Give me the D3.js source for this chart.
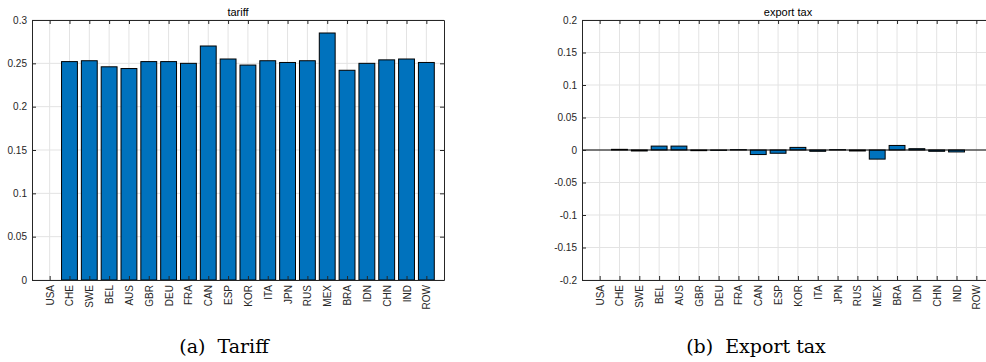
<!DOCTYPE html>
<html>
<head>
<meta charset="utf-8">
<script src="https://cdn.jsdelivr.net/npm/d3@7"></script>
<style>
  html, body { margin: 0; padding: 0; background: #fff; }
  svg { display: block; }
</style>
</head>
<body>
<div id="chart"></div>
<script>
const countries = ["USA", "CHE", "SWE", "BEL", "AUS", "GBR", "DEU", "FRA", "CAN", "ESP",
  "KOR", "ITA", "JPN", "RUS", "MEX", "BRA", "IDN", "CHN", "IND", "ROW"];
const tariff = [0, 0.252, 0.253, 0.246, 0.244, 0.252, 0.252, 0.250, 0.270, 0.255,
  0.248, 0.253, 0.251, 0.253, 0.285, 0.242, 0.250, 0.254, 0.255, 0.251];
const exportTax = [0, 0.001, -0.0015, 0.006, 0.006, -0.001, -0.0005, 0.0005, -0.007, -0.005,
  0.004, -0.002, 0.0005, -0.0015, -0.014, 0.007, 0.002, -0.002, -0.003, 0];
const tariffTicks = [0, 0.05, 0.1, 0.15, 0.2, 0.25, 0.3];
const exportTicks = [-0.2, -0.15, -0.1, -0.05, 0, 0.05, 0.1, 0.15, 0.2];
const captions = ["(a)\u00a0 Tariff", "(b)\u00a0 Export tax"];

const width = 986, height = 362;
const svg = d3.select("#chart").append("svg")
  .attr("width", width).attr("height", height);

const axisColor = "#262626";
const gridColor = "#e3e3e3";
const barColor = "#0072BD";

// MATLAB-style labels: plain hyphen, no trailing zeros
const fmtTick = d => String(+d.toFixed(2));

function drawPanel(opts) {
  const { left, right, top, bottom, values, yDomain, yTicks, title, showBaseline } = opts;
  const g = svg.append("g");

  const x = d3.scalePoint().domain(countries).range([left, right]).padding(0.89);
  const y = d3.scaleLinear().domain(yDomain).range([bottom, top]);
  const barW = x.step() * 0.8;

  // grid
  g.append("g").selectAll("line").data(countries).enter().append("line")
    .attr("x1", d => x(d)).attr("x2", d => x(d))
    .attr("y1", top).attr("y2", bottom)
    .attr("stroke", gridColor).attr("stroke-width", 1);
  g.append("g").selectAll("line").data(yTicks).enter().append("line")
    .attr("x1", left).attr("x2", right)
    .attr("y1", d => y(d)).attr("y2", d => y(d))
    .attr("stroke", gridColor).attr("stroke-width", 1);

  // bars
  g.append("g").selectAll("rect").data(values).enter().append("rect")
    .attr("x", (d, i) => x(countries[i]) - barW / 2)
    .attr("width", barW)
    .attr("y", d => y(Math.max(0, d)))
    .attr("height", d => Math.abs(y(d) - y(0)))
    .attr("fill", barColor)
    .attr("stroke", "#000")
    .attr("stroke-width", 1);

  if (showBaseline) {
    g.append("line")
      .attr("x1", left).attr("x2", right)
      .attr("y1", y(0)).attr("y2", y(0))
      .attr("stroke", "#000").attr("stroke-width", 1);
  }

  // axes (box with inward ticks)
  const tl = 4;
  g.append("g").attr("transform", `translate(0,${bottom})`)
    .call(d3.axisBottom(x).tickSizeInner(-tl).tickSizeOuter(0).tickPadding(5))
    .call(a => a.select(".domain").attr("stroke", axisColor))
    .call(a => a.selectAll(".tick line").attr("stroke", axisColor))
    .call(a => a.selectAll("text")
      .attr("transform", "rotate(-90)")
      .attr("text-anchor", "end")
      .attr("x", -5).attr("y", 0).attr("dy", "0.35em")
      .attr("font-family", "Liberation Sans, Arial, sans-serif")
      .attr("font-size", "10px")
      .attr("fill", axisColor));

  g.append("g").attr("transform", `translate(0,${top})`)
    .call(d3.axisTop(x).tickSizeInner(-tl).tickSizeOuter(0).tickFormat(""))
    .call(a => a.select(".domain").attr("stroke", axisColor))
    .call(a => a.selectAll(".tick line").attr("stroke", axisColor));

  g.append("g").attr("transform", `translate(${left},0)`)
    .call(d3.axisLeft(y).tickValues(yTicks).tickSizeInner(-tl).tickSizeOuter(0)
      .tickPadding(5).tickFormat(fmtTick))
    .call(a => a.select(".domain").attr("stroke", axisColor))
    .call(a => a.selectAll(".tick line").attr("stroke", axisColor))
    .call(a => a.selectAll("text")
      .attr("font-family", "Liberation Sans, Arial, sans-serif")
      .attr("font-size", "10px")
      .attr("fill", axisColor));

  g.append("g").attr("transform", `translate(${right},0)`)
    .call(d3.axisRight(y).tickValues(yTicks).tickSizeInner(-tl).tickSizeOuter(0).tickFormat(""))
    .call(a => a.select(".domain").attr("stroke", axisColor))
    .call(a => a.selectAll(".tick line").attr("stroke", axisColor));

  g.append("text")
    .attr("x", (left + right) / 2).attr("y", top - 4)
    .attr("text-anchor", "middle")
    .attr("font-family", "Liberation Sans, Arial, sans-serif")
    .attr("font-size", "11px")
    .attr("fill", "#000")
    .text(title);
}

drawPanel({ left: 32, right: 444, top: 20, bottom: 280, values: tariff,
  yDomain: [0, 0.3], yTicks: tariffTicks, title: "tariff", showBaseline: false });
drawPanel({ left: 582, right: 994, top: 20, bottom: 280, values: exportTax,
  yDomain: [-0.2, 0.2], yTicks: exportTicks, title: "export tax", showBaseline: true });

svg.selectAll("text.caption").data(captions).enter().append("text")
  .attr("class", "caption")
  .attr("x", (d, i) => i === 0 ? 224 : 756)
  .attr("y", 353)
  .attr("text-anchor", "middle")
  .attr("font-family", "DejaVu Serif, Liberation Serif, serif")
  .attr("font-size", "19px")
  .attr("fill", "#000")
  .text(d => d);
</script>
</body>
</html>
